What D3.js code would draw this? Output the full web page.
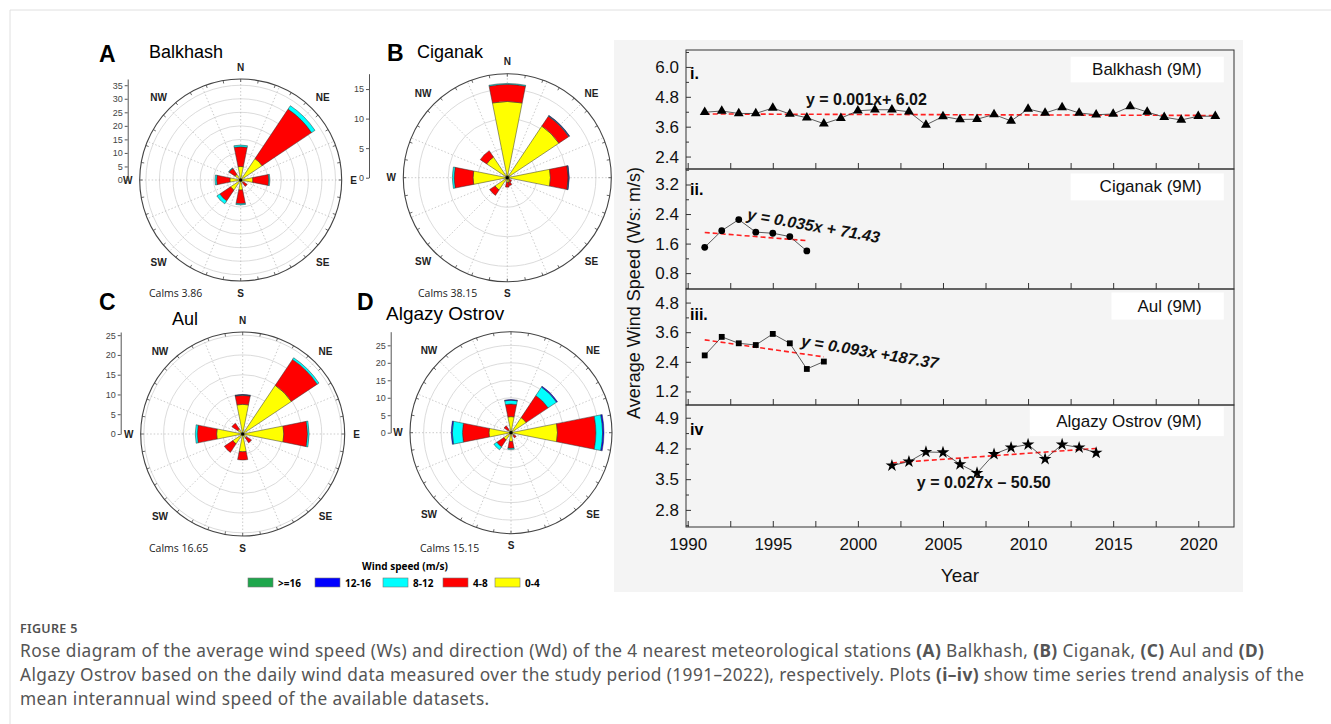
<!DOCTYPE html>
<html>
<head>
<meta charset="utf-8">
<script src="https://cdn.jsdelivr.net/npm/d3@7"></script>
<style>
  body { margin: 0; background: #fff; }
  svg { font-family: "Liberation Sans", Arial, sans-serif; }
</style>
</head>
<body>
<svg id="fig" width="1331" height="724"></svg>
<script>
// ---- wind rose data: frequency (%) per direction, one array per speed class ----
const directions = ['N','NNE','NE','ENE','E','ESE','SE','SSE','S','SSW','SW','WSW','W','WNW','NW','NNW'];
const speedClasses = ['0-4','4-8','8-12','12-16','>=16'];
const speedColors = ['#ffff00','#ff0000','#00ffff','#0000ff','#1ea64c'];
const legendOrder = ['>=16','12-16','8-12','4-8','0-4'];

const balkhash0to4   = [5.0,0.5,9.5,0.5,4.5,0.5,1.2,0.5,3.7,0.5,4.5,0.5,4.0,0.5,2.5,0.5];
const balkhash4to8   = [7.3,0,22.0,0,5.9,0,1.7,0,5.1,0,4.8,0,4.9,0,2.7,0];
const balkhash8to12  = [0.6,0,1.5,0,0.4,0,0,0,0.4,0,1.3,0,0.6,0,0.2,0];
const balkhash12to16 = [0,0,0,0,0,0,0,0,0,0,0,0,0,0,0,0];
const balkhashOver16 = [0,0,0,0,0,0,0,0,0,0,0,0,0,0,0,0];

const ciganak0to4   = [12.9,0.4,10.5,0.4,7.3,0.4,0.5,0.8,0.8,0.4,2.5,0.4,5.8,0.4,4.2,0.4];
const ciganak4to8   = [2.9,0,2.0,0,3.0,0,0.4,0.6,0.8,0,1.1,0,3.2,0,1.3,0];
const ciganak8to12  = [0.15,0,0.1,0,0.1,0,0,0,0,0,0,0,0.3,0,0,0];
const ciganak12to16 = [0,0,0.08,0,0.08,0,0,0,0,0,0,0,0,0,0,0];
const ciganakOver16 = [0,0,0,0,0,0,0,0,0,0,0,0,0,0,0,0];

const aul0to4   = [7.5,0.4,14.8,0.4,10.4,0.4,1.2,0.4,4.5,0.4,3.0,0.4,6.6,0.4,1.5,0.4];
const aul4to8   = [2.3,0,7.9,0,6.0,0,1.5,0,2.1,0,2.6,0,4.9,0,1.8,0];
const aul8to12  = [0.1,0,0.5,0,0.4,0,0,0,0,0,0,0,0.5,0,0,0];
const aul12to16 = [0.1,0,0,0,0,0,0,0,0,0,0,0,0,0,0,0];
const aulOver16 = [0,0,0,0,0,0,0,0,0,0,0,0,0,0,0,0];

const algazy0to4   = [4.6,0.4,5.2,0.4,13.3,0.4,1.0,0.4,2.5,0.4,2.5,0.4,6.3,0.4,1.0,0.4];
const algazy4to8   = [3.6,0,7.6,0,11.0,0,0.8,0,2.0,0,2.4,0,7.6,0,1.4,0];
const algazy8to12  = [1.1,0,2.9,0,1.9,0,0,0,0.3,0,1.0,0,2.9,0,0,0];
const algazy12to16 = [0.2,0,0.3,0,0.4,0,0,0,0,0,0,0,0.3,0,0,0];
const algazyOver16 = [0,0,0,0,0,0,0,0,0,0,0,0,0,0,0,0];

// ---- interannual mean wind speed (m/s) ----
const balkhashYears = [1991,1992,1993,1994,1995,1996,1997,1998,1999,2000,2001,2002,2003,2004,2005,2006,2007,2008,2009,2010,2011,2012,2013,2014,2015,2016,2017,2018,2019,2020,2021];
const balkhashWs    = [4.18,4.23,4.13,4.13,4.35,4.11,3.96,3.72,3.94,4.24,4.28,4.28,4.20,3.67,4.01,3.89,3.90,4.09,3.83,4.31,4.15,4.37,4.15,4.08,4.11,4.41,4.19,3.98,3.87,4.02,4.02];
const balkhashTrend = [4.11,4.05];

const ciganakYears = [1991,1992,1993,1994,1995,1996,1997];
const ciganakWs    = [1.50,1.95,2.25,1.91,1.88,1.79,1.40];
const ciganakTrend = [1.90,1.68];

const aulYears = [1991,1992,1993,1994,1995,1996,1997,1998];
const aulWs    = [2.66,3.41,3.15,3.08,3.53,3.15,2.11,2.41];
const aulTrend = [3.29,2.60];

const algazyYears = [2002,2003,2004,2005,2006,2007,2008,2009,2010,2011,2012,2013,2014];
const algazyWs    = [3.81,3.90,4.12,4.11,3.84,3.64,4.07,4.22,4.29,3.96,4.29,4.22,4.10];
const algazyTrend = [3.87,4.20];

const yearTicks = [1990,1995,2000,2005,2010,2015,2020];

const svg = d3.select('#fig');

// page frame lines
svg.append('line').attr('x1',10).attr('y1',10).attr('x2',1331).attr('y2',10).attr('stroke','#e0e0e0');
svg.append('line').attr('x1',10).attr('y1',10).attr('x2',10).attr('y2',724).attr('stroke','#e0e0e0');

// ---------------- wind roses ----------------
const roses = [
  {letter:'A', title:'Balkhash', cx:240.7, cy:180, R:101, max:37.3, rings:[5,10,15,20,25,30,35], axisX:127.7,
   axisTicks:[0,5,10,15,20,25,30,35], calms:'Calms 3.86', calmsX:149, calmsY:297, letterX:99, letterY:62, titleX:149, titleY:58,
   hideN:false, series:[balkhash0to4,balkhash4to8,balkhash8to12,balkhash12to16,balkhashOver16]},
  {letter:'B', title:'Ciganak', cx:507.3, cy:177.7, R:104, max:17.6, rings:[5,10,15], axisX:369,
   axisTicks:[0,5,10,15], calms:'Calms 38.15', calmsX:418, calmsY:297, letterX:387, letterY:61, titleX:417, titleY:58,
   hideN:false, series:[ciganak0to4,ciganak4to8,ciganak8to12,ciganak12to16,ciganakOver16]},
  {letter:'C', title:'Aul', cx:242.7, cy:434, R:102, max:25.8, rings:[5,10,15,20,25], axisX:120.7,
   axisTicks:[0,5,10,15,20,25], calms:'Calms 16.65', calmsX:149, calmsY:552, letterX:99, letterY:310, titleX:172, titleY:325,
   hideN:false, series:[aul0to4,aul4to8,aul8to12,aul12to16,aulOver16]},
  {letter:'D', title:'Algazy Ostrov', cx:511, cy:432.7, R:101, max:28.9, rings:[5,10,15,20,25], axisX:390.7,
   axisTicks:[0,5,10,15,20,25], calms:'Calms 15.15', calmsX:420, calmsY:552, letterX:357, letterY:310, titleX:386, titleY:320,
   hideN:true, series:[algazy0to4,algazy4to8,algazy8to12,algazy12to16,algazyOver16]}
];

const compass = ['N','NE','E','SE','S','SW','W','NW'];

roses.forEach(r => {
  const g = svg.append('g').attr('transform', `translate(${r.cx},${r.cy})`);
  const rad = d3.scaleLinear().domain([0, r.max]).range([0, r.R]);

  g.selectAll('circle.ring').data(r.rings).join('circle')
    .attr('class','ring').attr('r', d => rad(d))
    .attr('fill','none').attr('stroke','#d2d2d2').attr('stroke-width',0.8);

  g.selectAll('line.spoke').data(directions).join('line')
    .attr('class','spoke')
    .attr('x1',0).attr('y1',0)
    .attr('x2',(d,i) => r.R*Math.sin(i*Math.PI/8))
    .attr('y2',(d,i) => -r.R*Math.cos(i*Math.PI/8))
    .attr('stroke','#b5b5b5').attr('stroke-width',0.7).attr('stroke-dasharray','1.5,2');

  // stack the speed classes outward for every direction
  const segs = [];
  directions.forEach((d,i) => {
    let acc = 0;
    r.series.forEach((s,k) => {
      if (s[i] > 0) segs.push({i, k, inner: acc, outer: acc + s[i]});
      acc += s[i];
    });
  });
  const arc = d3.arc()
    .innerRadius(d => rad(d.inner)).outerRadius(d => rad(d.outer))
    .startAngle(d => (d.i - 0.5)*Math.PI/8).endAngle(d => (d.i + 0.5)*Math.PI/8);
  g.selectAll('path.petal').data(segs).join('path')
    .attr('class','petal').attr('d', arc)
    .attr('fill', d => speedColors[d.k]).attr('stroke','#333').attr('stroke-width',0.5);

  g.append('circle').attr('r', r.R).attr('fill','none').attr('stroke','#444').attr('stroke-width',1.1);
  g.selectAll('line.tk').data(d3.range(0,360,10)).join('line')
    .attr('class','tk')
    .attr('x1', d => r.R*Math.sin(d*Math.PI/180)).attr('y1', d => -r.R*Math.cos(d*Math.PI/180))
    .attr('x2', d => (r.R-3)*Math.sin(d*Math.PI/180)).attr('y2', d => -(r.R-3)*Math.cos(d*Math.PI/180))
    .attr('stroke','#444').attr('stroke-width',0.8);
  g.append('circle').attr('r',1.6).attr('fill','#000');

  g.selectAll('text.dir').data(compass.filter(d => !(r.hideN && d === 'N'))).join('text')
    .attr('class','dir')
    .each(function(d) {
      const i = compass.indexOf(d);
      const diag = i % 2 === 1;
      const dist = diag ? (r.R + 15)*Math.SQRT1_2 : r.R + 12;
      const sx = diag ? Math.sign(Math.sin(i*Math.PI/4)) : Math.round(Math.sin(i*Math.PI/4));
      const sy = diag ? Math.sign(Math.cos(i*Math.PI/4)) : Math.round(Math.cos(i*Math.PI/4));
      d3.select(this).attr('x', dist*sx).attr('y', -dist*sy);
    })
    .attr('text-anchor','middle').attr('dominant-baseline','central')
    .style('font-size','10px').style('font-weight','bold').style('fill','#222')
    .text(d => d);

  // radial scale bar
  const ax = d3.scaleLinear().domain([0, r.max]).range([r.cy, r.cy - r.R]);
  const axG = svg.append('g').attr('transform', `translate(${r.axisX},0)`)
    .call(d3.axisLeft(ax).tickValues(r.axisTicks).tickSize(3).tickPadding(2).tickSizeOuter(0));
  axG.selectAll('text').style('font-size','9px').style('fill','#444').style('font-family','"Liberation Sans", Arial, sans-serif');
  axG.selectAll('line,path').attr('stroke','#555');

  svg.append('text').attr('x', r.letterX).attr('y', r.letterY)
    .style('font-size','23px').style('font-weight','bold').text(r.letter);
  svg.append('text').attr('x', r.titleX).attr('y', r.titleY)
    .style('font-size', r.letter === 'D' ? '19px' : '18px').text(r.title);
  svg.append('text').attr('x', r.calmsX).attr('y', r.calmsY)
    .style('font-family','"Open Sans", sans-serif').style('font-size','10.5px').style('fill','#222')
    .text(r.calms);
});

// legend
svg.append('text').attr('x',405).attr('y',570).attr('text-anchor','middle')
  .style('font-family','"Open Sans", sans-serif').style('font-size','10px').style('font-weight','bold')
  .text('Wind speed (m/s)');
const legendX = [248, 315, 383, 443, 495];
legendOrder.forEach((lab, j) => {
  const k = speedClasses.indexOf(lab);
  svg.append('rect').attr('x', legendX[j]).attr('y', 578).attr('width', 25).attr('height', 9)
    .attr('fill', speedColors[k]).attr('stroke','#777').attr('stroke-width',0.6);
  svg.append('text').attr('x', legendX[j] + 30).attr('y', 586.5)
    .style('font-family','"Open Sans", sans-serif').style('font-size','10px').style('font-weight','bold')
    .text(lab);
});

// ---------------- time series panels ----------------
svg.append('rect').attr('x',614).attr('y',40).attr('width',629).attr('height',552).attr('fill','#f4f4f4');

const tsLeft = 686, tsRight = 1234;
const x = d3.scaleLinear().domain([1989.9, 2022.1]).range([tsLeft, tsRight]);
const minorYears = d3.range(1990, 2022, 2.5);

const panels = [
  {tag:'i.', name:'Balkhash (9M)', years:balkhashYears, ws:balkhashWs, trend:balkhashTrend,
   top:50, bottom:169, domain:[1.9,6.68], ticks:[2.4,3.6,4.8,6.0], symbol:d3.symbolTriangle, size:42,
   eq:'y = 0.001x+ 6.02', eqAt:[2000.5,4.70], eqRot:0, italic:false, tagY:5.73,
   box:[2012.5,2021.5,6.41,5.38]},
  {tag:'ii.', name:'Ciganak (9M)', years:ciganakYears, ws:ciganakWs, trend:ciganakTrend,
   top:169, bottom:289, domain:[0.37,3.62], ticks:[0.8,1.6,2.4,3.2], symbol:d3.symbolCircle, size:36,
   eq:'y = 0.035x + 71.43', eqAt:[1997.4,2.08], eqRot:10, italic:true, tagY:3.07,
   box:[2012.5,2021.5,3.50,2.77]},
  {tag:'iii.', name:'Aul (9M)', years:aulYears, ws:aulWs, trend:aulTrend,
   top:289, bottom:405, domain:[0.65,5.35], ticks:[1.2,2.4,3.6,4.8], symbol:d3.symbolSquare, size:34,
   eq:'y = 0.093x +187.37', eqAt:[2000.7,2.8], eqRot:9.5, italic:true, tagY:4.32,
   box:[2014.9,2021.5,5.21,4.11]},
  {tag:'iv', name:'Algazy Ostrov (9M)', years:algazyYears, ws:algazyWs, trend:algazyTrend,
   top:405, bottom:527, domain:[2.41,5.19], ticks:[2.8,3.5,4.2,4.9], symbol:d3.symbolStar, size:50,
   eq:'y = 0.027x \u2013 50.50', eqAt:[2007.4,3.42], eqRot:0, italic:false, tagY:4.63,
   box:[2010.1,2021.5,5.15,4.48]}
];

panels.forEach((p, idx) => {
  const y = d3.scaleLinear().domain(p.domain).range([p.bottom, p.top]);
  const g = svg.append('g');

  // label box
  g.append('rect').attr('x', x(p.box[0])).attr('y', y(p.box[2]))
    .attr('width', x(p.box[1]) - x(p.box[0])).attr('height', y(p.box[3]) - y(p.box[2]))
    .attr('fill','#fff');
  g.append('text').attr('x', x(2020.2)).attr('y', y((p.box[2]+p.box[3])/2))
    .attr('text-anchor','end').attr('dominant-baseline','central')
    .style('font-size','17px').style('fill','#111').text(p.name);

  // ticks inside the frame
  const bt = g.append('g').attr('transform', `translate(0,${p.bottom})`)
    .call(d3.axisTop(x).tickValues(minorYears).tickSize(6).tickFormat(''));
  bt.select('.domain').remove();
  const lt = g.append('g').attr('transform', `translate(${tsLeft},0)`)
    .call(d3.axisRight(y).tickValues(p.ticks).tickSize(5).tickFormat(''));
  lt.select('.domain').remove();
  const step = p.ticks[1] - p.ticks[0];
  const minorY = p.ticks.map(v => v + step/2).concat([p.ticks[0] - step/2])
    .filter(v => v > p.domain[0] && v < p.domain[1]);
  const lm = g.append('g').attr('transform', `translate(${tsLeft},0)`)
    .call(d3.axisRight(y).tickValues(minorY).tickSize(3).tickFormat(''));
  lm.select('.domain').remove();
  g.selectAll('.tick line').attr('stroke','#333');

  const yl = g.append('g').attr('transform', `translate(${tsLeft},0)`)
    .call(d3.axisLeft(y).tickValues(p.ticks).tickSize(0).tickPadding(7).tickFormat(d3.format('.1f')));
  yl.select('.domain').remove();
  yl.selectAll('text').style('font-size','17px').style('fill','#111').style('font-family','"Liberation Sans", Arial, sans-serif');

  g.append('rect').attr('x', tsLeft).attr('y', p.top).attr('width', tsRight - tsLeft).attr('height', p.bottom - p.top)
    .attr('fill','none').attr('stroke','#333').attr('stroke-width',1);

  // trend line
  g.append('line')
    .attr('x1', x(p.years[0])).attr('y1', y(p.trend[0]))
    .attr('x2', x(p.years[p.years.length-1])).attr('y2', y(p.trend[1]))
    .attr('stroke','#ff2020').attr('stroke-width',1.6).attr('stroke-dasharray','5,3');

  // series
  const pts = p.years.map((yr, i) => [yr, p.ws[i]]);
  g.append('path').datum(pts)
    .attr('d', d3.line().x(d => x(d[0])).y(d => y(d[1])))
    .attr('fill','none').attr('stroke','#333').attr('stroke-width',0.8);
  g.selectAll('path.mk').data(pts).join('path')
    .attr('class','mk')
    .attr('transform', d => `translate(${x(d[0])},${y(d[1])})`)
    .attr('d', d3.symbol().type(p.symbol).size(p.size))
    .attr('fill','#000');

  // equation
  g.append('text')
    .attr('transform', `translate(${x(p.eqAt[0])},${y(p.eqAt[1])}) rotate(${p.eqRot})`)
    .attr('text-anchor','middle').attr('dominant-baseline','central')
    .style('font-size','16px').style('font-weight','bold').style('font-style', p.italic ? 'italic' : 'normal')
    .style('fill','#111').text(p.eq);

  g.append('text').attr('x', tsLeft + 4).attr('y', y(p.tagY))
    .attr('dominant-baseline','central')
    .style('font-size','16px').style('font-weight','bold').text(p.tag);

  if (idx === panels.length - 1) {
    const xb = g.append('g').attr('transform', `translate(0,${p.bottom})`)
      .call(d3.axisBottom(x).tickValues(yearTicks).tickSize(0).tickPadding(11).tickFormat(d3.format('d')));
    xb.select('.domain').remove();
    xb.selectAll('text').style('font-size','17px').style('fill','#111').style('font-family','"Liberation Sans", Arial, sans-serif');
  }
});

svg.append('text').attr('x', (tsLeft + tsRight)/2).attr('y', 582).attr('text-anchor','middle')
  .style('font-size','19px').style('fill','#111').text('Year');
svg.append('text').attr('transform', 'translate(640,293) rotate(-90)').attr('text-anchor','middle')
  .style('font-size','18px').style('fill','#111').text('Average Wind Speed (Ws: m/s)');

// ---------------- caption ----------------
const capFont = '"Noto Sans", "Open Sans", sans-serif';
svg.append('text').attr('x',20).attr('y',633)
  .style('font-family', capFont).style('fill','#505050').style('font-size','12.5px').style('font-weight','600')
  .style('letter-spacing','0.3px')
  .text('FIGURE 5');
const capLines = [
  [['Rose diagram of the average wind speed (Ws) and direction (Wd) of the 4 nearest meteorological stations ',0],['(A)',1],[' Balkhash, ',0],['(B)',1],[' Ciganak, ',0],['(C)',1],[' Aul and ',0],['(D)',1]],
  [['Algazy Ostrov based on the daily wind data measured over the study period (1991\u20132022), respectively. Plots ',0],['(i\u2013iv)',1],[' show time series trend analysis of the',0]],
  [['mean interannual wind speed of the available datasets.',0]]
];
capLines.forEach((ln, i) => {
  const t = svg.append('text').attr('x',20).attr('y',657 + i*24)
    .style('font-family', capFont).style('fill','#555').style('font-size','17.3px')
    .style('letter-spacing','0.4px');
  ln.forEach(([s,b]) => t.append('tspan').style('font-weight', b ? 'bold' : 'normal').text(s));
});
</script>
</body>
</html>
